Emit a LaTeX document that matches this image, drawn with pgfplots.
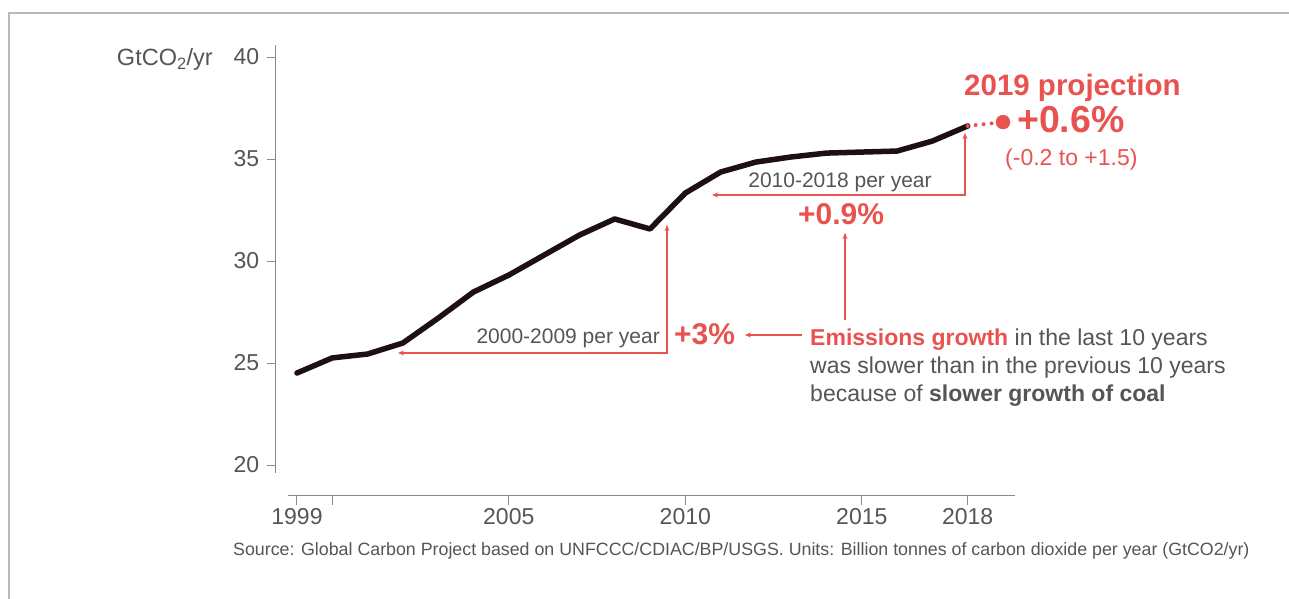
\documentclass[border=0pt]{standalone}
\usepackage{fontspec}
\setmainfont{Liberation Sans}
\usepackage{pgfplots}
\pgfplotsset{compat=1.18}
\usetikzlibrary{arrows.meta}

\definecolor{accent}{HTML}{E8534F}
\definecolor{txtgray}{HTML}{555555}
\definecolor{axgray}{HTML}{8A8A8A}
\definecolor{linecol}{HTML}{1E1011}

\tikzset{tip/.tip={Stealth[length=6pt,width=5pt]}}

\begin{document}
\begin{tikzpicture}
\begin{axis}[
  at={(275.8pt,-495.6pt)}, anchor=south west,
  scale only axis, width=762.5pt, height=479.4pt,
  xmin=1998.4, xmax=2020, ymin=18.5, ymax=42,
  axis lines*=left, axis line style={draw=none},
  xtick={1999,2000,2005,2010,2015,2018},
  xticklabels={1999,,2005,2010,2015,2018},
  ytick={20,25,30,35,40}, yticklabels={20,25,30,35,40},
  tick align=outside, major tick length=9pt,
  tick style={axgray, line width=1pt},
  xticklabel style={font=\fontsize{23}{27}\selectfont, text=txtgray},
  yticklabel style={font=\fontsize{23}{27}\selectfont, text=txtgray, xshift=-4pt},
  clip=false,
]
% fossil CO2 emissions, GtCO2/yr
\addplot[linecol, line width=5.5pt, line join=round, line cap=round] coordinates {
  (1999,24.51) (2000,25.25) (2001,25.44) (2002,25.98) (2003,27.20)
  (2004,28.48) (2005,29.31) (2006,30.29) (2007,31.27) (2008,32.06)
  (2009,31.57) (2010,33.33) (2011,34.36) (2012,34.85) (2013,35.10)
  (2014,35.29) (2015,35.34) (2016,35.39) (2017,35.88) (2018,36.62)
};
% 2019 projection
\addplot[accent, line width=4pt, line cap=round, dash pattern=on 0pt off 8pt] coordinates {(2018,36.62) (2019,36.81)};
\addplot[only marks, mark=*, mark size=7pt, accent] coordinates {(2019,36.81)};
\end{axis}

\begin{scope}[x=1pt, y=-1pt]
  % frame and detached axis lines
  \draw[gray!55, line width=2pt] (9,599) -- (9,13) -- (1289,13);
  \draw[axgray, line width=1.3pt] (275.8,45) -- (275.8,473);
  \draw[axgray, line width=1.3pt] (288,495.6) -- (1015,495.6);
  \node[anchor=base east, inner sep=0, text=txtgray, font=\fontsize{23.5}{27}\selectfont] at (213,66) {GtCO\textsubscript{2}/yr};

  % 2000-2009
  \draw[accent, line width=1.3pt, tip-tip] (398,353) -- (667,353) -- (667,225);
  \node[anchor=base east, inner sep=0, text=txtgray, font=\fontsize{21}{25}\selectfont] at (660,343) {2000-2009 per year};
  \node[anchor=base west, inner sep=0, text=accent, font=\fontsize{30}{34}\selectfont\bfseries] at (674,344) {+3\%};
  \draw[accent, line width=1.5pt, -tip] (802,335) -- (745,335);

  % 2010-2018
  \draw[accent, line width=1.3pt, tip-tip] (712,195) -- (965,195) -- (965,133);
  \node[anchor=base, inner sep=0, text=txtgray, font=\fontsize{21}{25}\selectfont] at (840,187) {2010-2018 per year};
  \node[anchor=base, inner sep=0, text=accent, font=\fontsize{30}{34}\selectfont\bfseries] at (841,224) {+0.9\%};
  \draw[accent, line width=1.5pt, -tip] (845,320) -- (845,233);

  % 2019
  \node[anchor=base west, inner sep=0, text=accent, font=\fontsize{29.5}{33}\selectfont\bfseries] at (964,96) {2019 projection};
  \node[anchor=base west, inner sep=0, text=accent, font=\fontsize{37.5}{42}\selectfont\bfseries] at (1017,132) {+0.6\%};
  \node[anchor=base west, inner sep=0, text=accent, font=\fontsize{23}{27}\selectfont] at (1005,165) {(-0.2 to +1.5)};

  % explanation
  \node[anchor=base west, inner sep=0, text=txtgray, font=\fontsize{23}{27}\selectfont] at (810,345) {\textcolor{accent}{\bfseries Emissions growth} in the last 10 years};
  \node[anchor=base west, inner sep=0, text=txtgray, font=\fontsize{23}{27}\selectfont] at (810,373) {was slower than in the previous 10 years};
  \node[anchor=base west, inner sep=0, text=txtgray, font=\fontsize{23}{27}\selectfont] at (810,401) {because of \textbf{slower growth of coal}};

  \node[anchor=base west, inner sep=0, text=txtgray, font=\fontsize{17.8}{21}\selectfont] at (233,555) {Source: Global Carbon Project based on UNFCCC/CDIAC/BP/USGS. Units: Billion tonnes of carbon dioxide per year (GtCO2/yr)};
\end{scope}
\pgfresetboundingbox
\useasboundingbox (0,0) rectangle (1289pt,-599pt);
\end{tikzpicture}
\end{document}
